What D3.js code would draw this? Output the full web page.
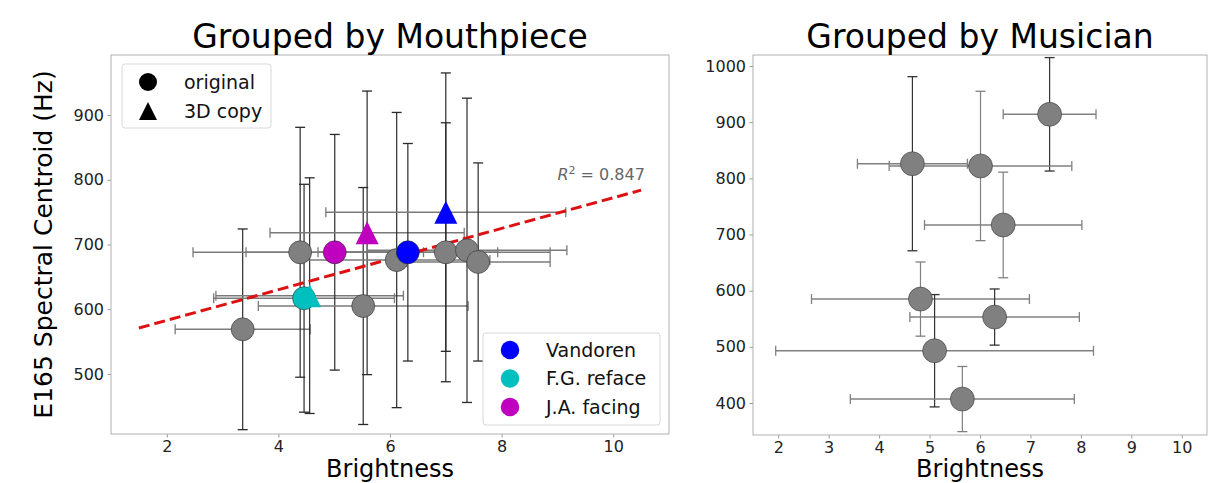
<!DOCTYPE html>
<html>
<head>
<meta charset="utf-8">
<script src="https://cdn.jsdelivr.net/npm/d3@7"></script>
<style>
  body { margin: 0; background: #fff; }
  text { font-family: "DejaVu Sans", sans-serif; }
</style>
</head>
<body>
<div id="chart"></div>
<script>
(function () {

  // Data: grouped by mouthpiece

  var mpGroup  = ["original", "original", "F.G. reface", "F.G. reface", "J.A. facing", "original", "J.A. facing", "original", "Vandoren", "original", "Vandoren", "original", "original"]
  var mpCopy   = [false, false, false, true, false, false, true, false, false, false, true, false, false]
  var mpX      = [3.36, 4.39, 4.46, 4.56, 5.01, 5.52, 5.59, 6.12, 6.32, 7.00, 7.00, 7.38, 7.58]
  var mpY      = [569, 688, 617, 621, 688, 605, 718, 676, 688, 688, 750, 691, 673]
  var mpXerr   = [1.21, 1.92, 1.62, 1.68, 1.59, 1.88, 1.74, 1.67, 1.61, 1.87, 2.15, 1.79, 1.29]
  var mpYerr   = [155, 193, 176, 182, 182, 183, 219, 228, 168, 200, 215, 235, 153]

  // linear fit drawn across the left panel
  var fitX = [1.5, 10.5]
  var fitY = [571, 784]
  var fitR2 = "0.847"

  // Data: grouped by musician

  var muX    = [7.38, 4.66, 6.01, 6.46, 4.82, 6.29, 5.10, 5.65]
  var muY    = [914, 826, 822, 717, 585, 553, 493, 407]
  var muXerr = [0.92, 1.09, 1.81, 1.56, 2.16, 1.68, 3.15, 2.22]
  var muYerr = [101, 155, 133, 94, 66, 50, 100, 58]

  // Tick labels

  var leftXTicks  = [2, 4, 6, 8, 10]
  var leftYTicks  = [500, 600, 700, 800, 900]
  var rightXTicks = [2, 3, 4, 5, 6, 7, 8, 9, 10]
  var rightYTicks = [400, 500, 600, 700, 800, 900, 1000]

  var groupNames = ["Vandoren", "F.G. reface", "J.A. facing"]
  var groupColors = ["#0000ff", "#00bfbf", "#bf00bf"]

  // Styles (vertical error bars that look darker in the right panel)
  var muDarkY = [true, true, false, false, false, true, true, false]

  var color = d3.scaleOrdinal()
    .domain(["original"].concat(groupNames))
    .range(["#808080"].concat(groupColors))

  // Create the SVG

  var width = 1213, height = 483

  var svg = d3.select("#chart").append("svg")
      .attr("width", width)
      .attr("height", height)

  // Scales

  var xL = d3.scaleLinear().domain([1, 11]).range([111, 669])
  var yL = d3.scaleLinear().domain([407.3, 992.7]).range([434, 55])
  var xR = d3.scaleLinear().domain([1.5, 10.5]).range([753, 1207])
  var yR = d3.scaleLinear().domain([343, 1019.6]).range([435, 55])

  function drawAxes(x, y, xt, yt) {
    var g = svg.append("g")
    var r0 = x.range(), r1 = y.range()

    g.append("g")
      .attr("transform", "translate(0," + r1[0] + ")")
      .call(d3.axisBottom(x).tickValues(xt).tickSize(3.5).tickPadding(3).tickFormat(d3.format("d")))
    g.append("g")
      .attr("transform", "translate(" + r0[0] + ",0)")
      .call(d3.axisLeft(y).tickValues(yt).tickSize(3.5).tickPadding(3.5).tickFormat(d3.format("d")))

    g.selectAll(".domain").remove()
    g.selectAll(".tick line").attr("stroke", "#999")
    g.selectAll(".tick text")
      .attr("fill", "#222")
      .style("font-size", "16px")
      .style("font-family", "DejaVu Sans, sans-serif")

    g.append("rect")
      .attr("x", r0[0]).attr("y", r1[1])
      .attr("width", r0[1] - r0[0]).attr("height", r1[0] - r1[1])
      .attr("fill", "none")
      .attr("stroke", "#b0b0b0")
      .attr("stroke-width", 1)
  }

  function errorBars(g, x, y, px, py, ex, ey, hColor, vColor) {
    var cap = 5
    px.forEach(function (d, i) {
      var cx = x(d), cy = y(py[i])
      var x0 = x(d - ex[i]), x1 = x(d + ex[i])
      var y0 = y(py[i] - ey[i]), y1 = y(py[i] + ey[i])
      var hc = hColor, vc = typeof vColor === "function" ? vColor(i) : vColor

      g.append("line").attr("x1", x0).attr("x2", x1).attr("y1", cy).attr("y2", cy)
        .attr("stroke", hc).attr("stroke-width", 1.5)
      g.append("line").attr("x1", x0).attr("x2", x0).attr("y1", cy - cap).attr("y2", cy + cap)
        .attr("stroke", hc).attr("stroke-width", 1.3)
      g.append("line").attr("x1", x1).attr("x2", x1).attr("y1", cy - cap).attr("y2", cy + cap)
        .attr("stroke", hc).attr("stroke-width", 1.3)

      g.append("line").attr("x1", cx).attr("x2", cx).attr("y1", y0).attr("y2", y1)
        .attr("stroke", vc).attr("stroke-width", 1.2)
      g.append("line").attr("x1", cx - cap).attr("x2", cx + cap).attr("y1", y0).attr("y2", y0)
        .attr("stroke", vc).attr("stroke-width", 1.3)
      g.append("line").attr("x1", cx - cap).attr("x2", cx + cap).attr("y1", y1).attr("y2", y1)
        .attr("stroke", vc).attr("stroke-width", 1.3)
    })
  }

  var circleSym = d3.symbol().type(d3.symbolCircle)
  function triPath(s) {
    var h = s / 2
    return "M0," + (-h) + "L" + h + "," + h + "L" + (-h) + "," + h + "Z"
  }
  function circPath(s) {
    return circleSym.size(Math.PI * s * s / 4)()
  }

  // Left panel

  drawAxes(xL, yL, leftXTicks, leftYTicks)

  var left = svg.append("g")

  errorBars(left, xL, yL, mpX, mpY, mpXerr, mpYerr, "#7a7a7a", "#2a2a2a")

  left.append("path")
    .datum(fitX.map(function (d, i) { return [d, fitY[i]] }))
    .attr("d", d3.line().x(function (d) { return xL(d[0]) }).y(function (d) { return yL(d[1]) }))
    .attr("stroke", "#dd1111")
    .attr("stroke-width", 3)
    .attr("stroke-dasharray", "11,5")
    .attr("fill", "none")

  left.selectAll(".mp")
    .data(mpX)
    .enter().append("path")
    .attr("class", "mp")
    .attr("transform", function (d, i) { return "translate(" + xL(d) + "," + yL(mpY[i]) + ")" })
    .attr("d", function (d, i) { return mpCopy[i] ? triPath(23) : circPath(23) })
    .attr("fill", function (d, i) { return color(mpGroup[i]) })
    .attr("stroke", function (d, i) { return mpCopy[i] ? "none" : "rgba(40,40,40,0.55)" })
    .attr("stroke-width", 1)

  var r2 = left.append("text")
    .attr("x", xL(9.0))
    .attr("y", yL(800))
    .attr("fill", "#666")
    .style("font-size", "16px")
  r2.append("tspan").style("font-style", "italic").text("R")
  r2.append("tspan").attr("dy", -6).style("font-size", "11px").text("2")
  r2.append("tspan").attr("dy", 6).text(" = " + fitR2)

  svg.append("text")
    .attr("x", (xL.range()[0] + xL.range()[1]) / 2)
    .attr("y", 48)
    .attr("text-anchor", "middle")
    .style("font-size", "33px")
    .text("Grouped by Mouthpiece")

  svg.append("text")
    .attr("x", (xL.range()[0] + xL.range()[1]) / 2)
    .attr("y", 477)
    .attr("text-anchor", "middle")
    .style("font-size", "24px")
    .text("Brightness")

  svg.append("text")
    .attr("transform", "translate(52," + ((yL.range()[0] + yL.range()[1]) / 2) + ") rotate(-90)")
    .attr("text-anchor", "middle")
    .style("font-size", "25px")
    .text("E165 Spectral Centroid (Hz)")

  // Legend: marker shape

  var leg1 = svg.append("g")
  leg1.append("rect")
    .attr("x", 122).attr("y", 64).attr("width", 149).attr("height", 64)
    .attr("rx", 3).attr("fill", "rgba(255,255,255,0.85)")
    .attr("stroke", "#d8d8d8")
  var shapeNames = ["original", "3D copy"]
  shapeNames.forEach(function (name, i) {
    leg1.append("path")
      .attr("transform", "translate(148," + (82 + i * 29) + ")")
      .attr("d", i === 0 ? circPath(18) : triPath(18))
      .attr("fill", "#000")
    leg1.append("text")
      .attr("x", 184).attr("y", 82 + i * 29)
      .attr("dy", "0.35em")
      .attr("fill", "#111")
      .style("font-size", "19px")
      .text(name)
  })

  // Legend: mouthpiece group

  var leg2 = svg.append("g")
  leg2.append("rect")
    .attr("x", 483).attr("y", 333).attr("width", 177).attr("height", 92)
    .attr("rx", 3).attr("fill", "rgba(255,255,255,0.85)")
    .attr("stroke", "#d8d8d8")
  groupNames.forEach(function (name, i) {
    leg2.append("path")
      .attr("transform", "translate(510," + (350 + i * 28.5) + ")")
      .attr("d", circPath(18.5))
      .attr("fill", color(name))
    leg2.append("text")
      .attr("x", 546).attr("y", 350 + i * 28.5)
      .attr("dy", "0.35em")
      .attr("fill", "#111")
      .style("font-size", "19px")
      .text(name)
  })

  // Right panel

  drawAxes(xR, yR, rightXTicks, rightYTicks)

  var right = svg.append("g")

  errorBars(right, xR, yR, muX, muY, muXerr, muYerr, "#808080", function (i) {
    return muDarkY[i] ? "#333" : "#808080"
  })

  right.selectAll(".mu")
    .data(muX)
    .enter().append("path")
    .attr("class", "mu")
    .attr("transform", function (d, i) { return "translate(" + xR(d) + "," + yR(muY[i]) + ")" })
    .attr("d", circPath(24))
    .attr("fill", "#808080")
    .attr("stroke", "rgba(40,40,40,0.5)")
    .attr("stroke-width", 1)

  svg.append("text")
    .attr("x", (xR.range()[0] + xR.range()[1]) / 2)
    .attr("y", 48)
    .attr("text-anchor", "middle")
    .style("font-size", "33px")
    .text("Grouped by Musician")

  svg.append("text")
    .attr("x", (xR.range()[0] + xR.range()[1]) / 2)
    .attr("y", 477)
    .attr("text-anchor", "middle")
    .style("font-size", "24px")
    .text("Brightness")

})()
</script>
</body>
</html>
